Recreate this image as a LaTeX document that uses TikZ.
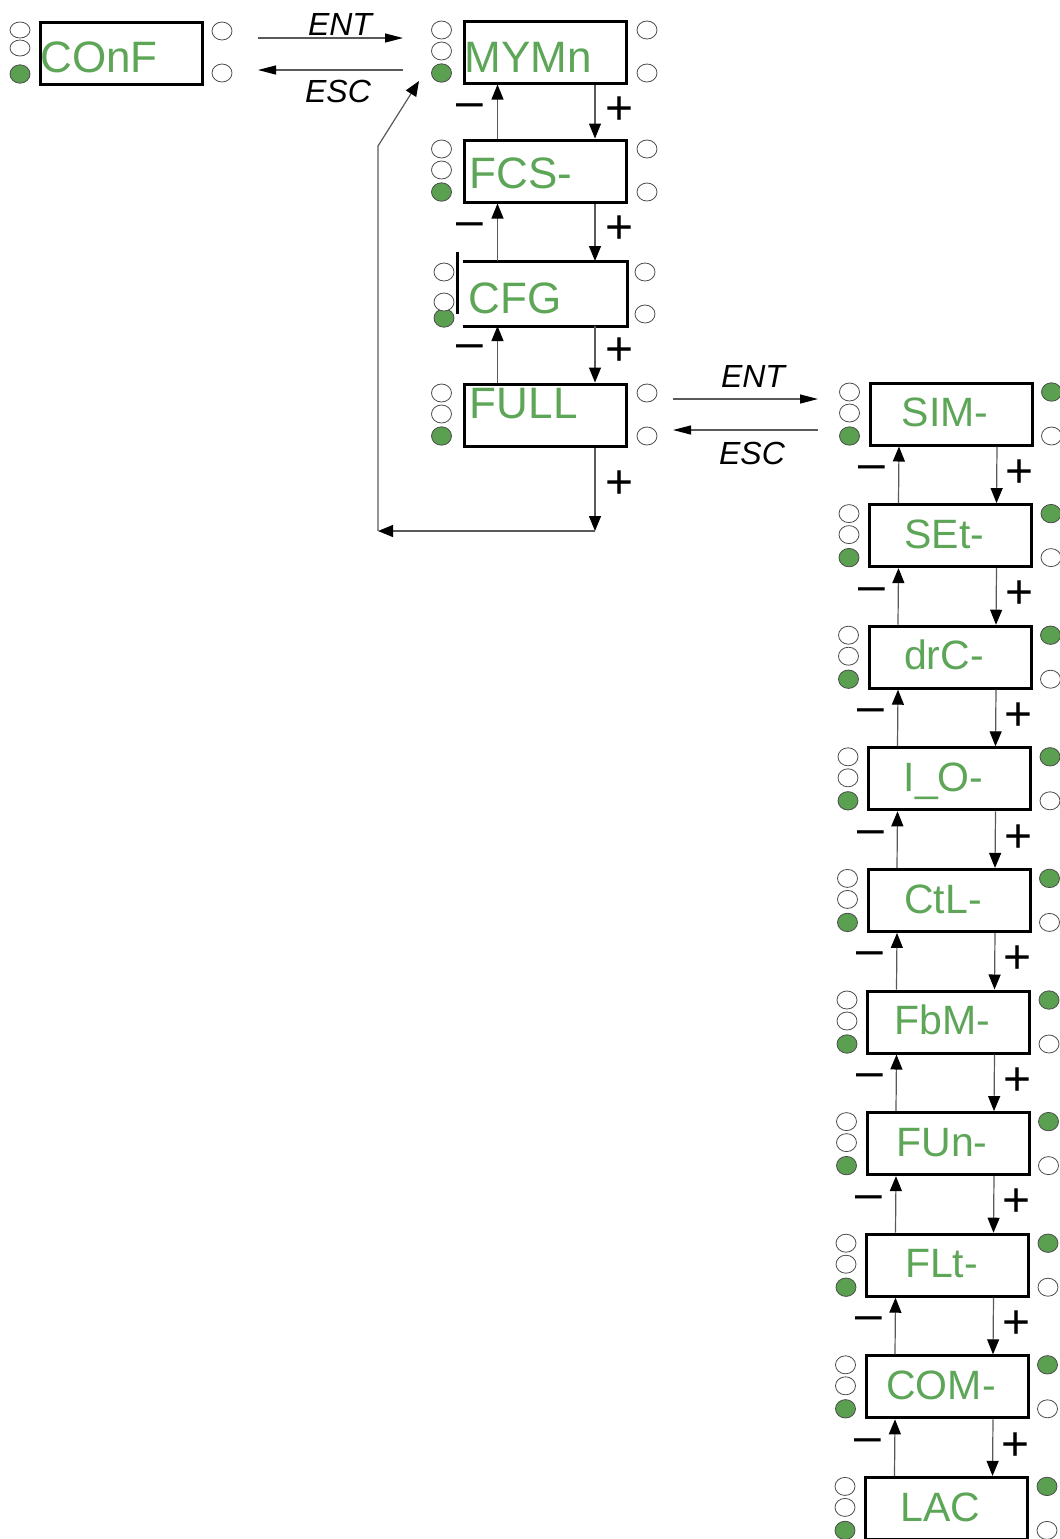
\documentclass[tikz,border=0pt]{standalone}
\usepackage{fontspec}
\setmainfont{Liberation Sans}
\usetikzlibrary{arrows.meta,calc}
\definecolor{ledgreen}{RGB}{90,160,80}
\definecolor{txtgreen}{RGB}{93,165,87}

\begin{document}
\begin{tikzpicture}[x=0.5pt,y=-0.5pt,
    >={Triangle[length=7.5pt,width=6pt,color=black]},
    menubox/.style={draw,line width=1.5pt,minimum width=81pt,minimum height=31pt,inner sep=0pt},
    boxline/.style={line width=1.5pt},
    menutext/.style={text=txtgreen,font=\fontsize{22}{22}\selectfont,inner sep=0pt},
    ctext/.style={menutext,font=\fontsize{20.5}{20.5}\selectfont,text height=14.7pt,text depth=0pt},
    ledoff/.style={draw=black!70,fill=white,line width=0.4pt},
    ledon/.style={draw=black!70,fill=ledgreen,line width=0.4pt},
    link/.style={->,draw=black!65,line width=0.6pt},
    keylink/.style={-{Triangle[length=9pt,width=4.5pt,color=black]},draw=black!65,line width=0.6pt},
    key/.style={font=\fontsize{16}{16}\selectfont\itshape,inner sep=0pt},
    sign/.style={font=\fontsize{24}{24}\selectfont,inner sep=0pt}]
  \def\rx{5pt}    % LED radii
  \def\ry{4.5pt}
  \useasboundingbox (0,0) rectangle (1060,1539);
  \clip (0,0) rectangle (1060,1539);

  % top level: CONF
  \node[menubox] (conf) at (121.5,53) {};
  \node[menutext,anchor=base west] (confT) at (40,72) {COnF};
  \draw[ledoff] (20,30) ellipse [x radius=\rx,y radius=4pt];
  \draw[ledoff] (20,48) ellipse [x radius=\rx,y radius=4pt];
  \draw[ledon] (20,74) ellipse [x radius=\rx,y radius=4.6pt];
  \draw[ledoff] (222,31) ellipse [x radius=\rx,y radius=\ry];
  \draw[ledoff] (222,73) ellipse [x radius=\rx,y radius=\ry];

  % ENT / ESC into the menu column
  \coordinate (entA) at (258,38);
  \coordinate (entB) at (403,38);
  \draw[keylink] (entA) -- (entB);
  \node[key] (entL) at (340,24) {ENT};
  \coordinate (escA) at (403,70);
  \coordinate (escB) at (258,70);
  \draw[keylink] (escA) -- (escB);
  \node[key] (escL) at (338,91) {ESC};

  % menu column
  \node[menubox] (mymn) at (545,52) {};
  \node[menubox] (fcs) at (545,171) {};
  \node[menubox,draw=none] (cfg) at (545,293.5) {};
  \node[menubox] (full) at (545,415) {};
  \draw[boxline] (cfg.north west) -- (cfg.north east) -- (cfg.south east) -- (cfg.south west);
  \draw[boxline] (457,252) -- (457,314);

  \node[menutext,anchor=base west] (mymnT) at (464,72) {MYMn};
  \node[menutext,anchor=base west] (fcsT) at (469.5,188) {FCS-};
  \node[menutext,anchor=base west] (cfgT) at (468,313) {CFG};
  \node[menutext,anchor=base west] (fullT) at (469.5,418) {FULL};

  \foreach \b in {mymn,fcs,full} {
    \draw[ledoff] ($(\b.west)+(-21,-22)$) ellipse [x radius=\rx,y radius=\ry];
    \draw[ledoff] ($(\b.west)+(-21,-1)$) ellipse [x radius=\rx,y radius=\ry];
    \draw[ledon] ($(\b.west)+(-21,21)$) ellipse [x radius=\rx,y radius=4.6pt];
    \draw[ledoff] ($(\b.east)+(19.5,-22)$) ellipse [x radius=\rx,y radius=\ry];
    \draw[ledoff] ($(\b.east)+(19.5,21)$) ellipse [x radius=\rx,y radius=\ry];
  }
  % CFG LEDs, green one half hidden
  \draw[ledon] (444,318) ellipse [x radius=\rx,y radius=4.6pt];
  \draw[ledoff] (444,272) ellipse [x radius=\rx,y radius=\ry];
  \draw[ledoff] (444,302) ellipse [x radius=\rx,y radius=\ry];
  \draw[ledoff] (645,272) ellipse [x radius=\rx,y radius=\ry];
  \draw[ledoff] (645,314) ellipse [x radius=\rx,y radius=\ry];

  \foreach \a/\b in {mymn/fcs,fcs/cfg,cfg/full} {
    \draw[link] ($(\b.north)+(-47.5,0)$) -- ($(\a.south)+(-47.5,0)$);
    \draw[link] ($(\a.south)+(50,0)$) -- ($(\b.north)+(50,0)$);
    \node[sign] (minus\a) at ($(\a.south)+(-75.5,26)$) {–};
    \node[sign] (plus\a) at ($(\a.south)+(74.5,26)$) {+};
  }

  % back to the top of the column
  \coordinate (turnA) at (595,531);
  \coordinate (turnB) at (378,531);
  \coordinate (turnC) at (378,146);
  \coordinate (turnD) at (419,81);
  \draw[link] ($(full.south)+(50,0)$) -- (turnA);
  \node[sign] (plusfull) at (620,485) {+};
  \draw[link] (turnA) -- (turnB);
  \draw[link] (turnB) -- (turnC) -- (turnD);

  % ENT / ESC into the FULL list
  \coordinate (ent2A) at (673,399);
  \coordinate (ent2B) at (818,399);
  \draw[keylink] (ent2A) -- (ent2B);
  \node[key] (ent2L) at (753,376) {ENT};
  \coordinate (esc2A) at (818,430);
  \coordinate (esc2B) at (673,430);
  \draw[keylink] (esc2A) -- (esc2B);
  \node[key] (esc2L) at (752,453) {ESC};

  % FULL sub-menus
  \foreach \lbl [count=\i from 0] in {SIM-,SEt-,drC-,I\_O-,CtL-,FbM-,FUn-,FLt-,COM-,LAC} {
    \node[menubox] (r\i) at ({951-0.5*\i},{414+121.6*\i}) {};
    \node[ctext] (t\i) at ($(r\i.center)+(-6,-2)$) {\lbl};
    \draw[ledoff] ($(r\i.west)+(-19,-22)$) ellipse [x radius=\rx,y radius=\ry];
    \draw[ledoff] ($(r\i.west)+(-19,-1)$) ellipse [x radius=\rx,y radius=\ry];
    \draw[ledon] ($(r\i.west)+(-19,22)$) ellipse [x radius=\rx,y radius=4.6pt];
    \draw[ledon] ($(r\i.east)+(18,-22)$) ellipse [x radius=\rx,y radius=4.6pt];
    \draw[ledoff] ($(r\i.east)+(18,22)$) ellipse [x radius=\rx,y radius=\ry];
  }
  \foreach \i in {0,...,8} {
    \pgfmathtruncatemacro\j{\i+1}
    \draw[link] ($(r\j.north)+(-52,0)$) -- ($(r\i.south)+(-52,0)$);
    \draw[link] ($(r\i.south)+(46,0)$) -- ($(r\j.north)+(46,0)$);
    \node[sign] (minusr\i) at ($(r\i.south)+(-79,26)$) {–};
    \node[sign] (plusr\i) at ($(r\i.south)+(69,27)$) {+};
  }
\end{tikzpicture}
\end{document}
